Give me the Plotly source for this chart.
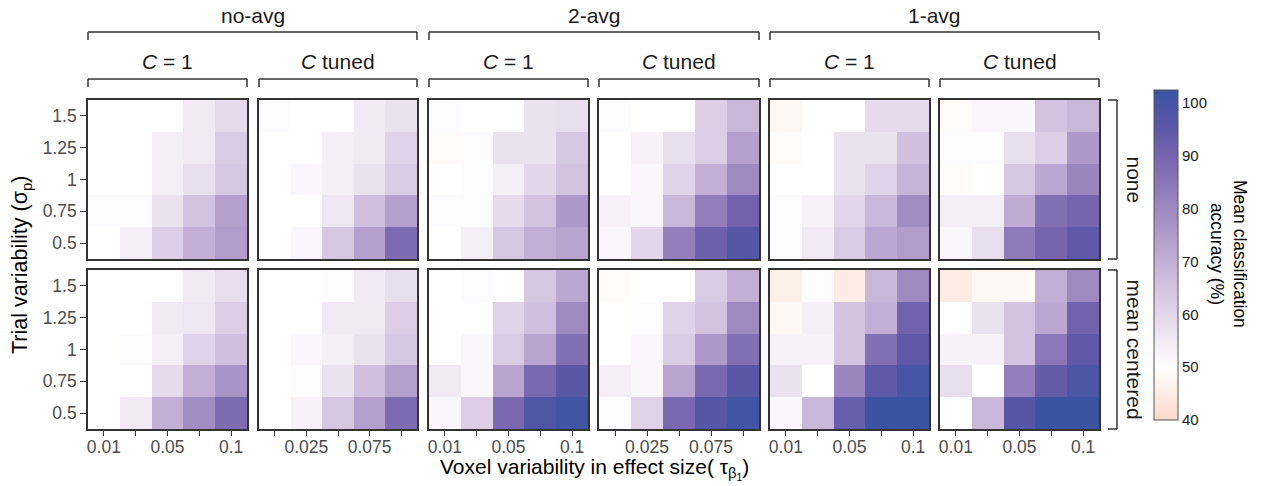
import plotly.graph_objects as go

# ---------------- data ----------------
x_cats = ["0.01", "0.025", "0.05", "0.075", "0.1"]
y_cats = ["0.5", "0.75", "1", "1.25", "1.5"]          # bottom -> top
x_ticks_odd = ["0.01", "", "0.05", "", "0.1"]
x_ticks_even = ["", "0.025", "", "0.075", ""]
col_groups = ["no-avg", "2-avg", "1-avg"]
col_sub = ["<i>C</i> = 1", "<i>C</i> tuned"]
row_labels = ["none", "mean centered"]
cb_ticks = [40, 50, 60, 70, 80, 90, 100]

# rows: sigma 0.5, 0.75, 1, 1.25, 1.5 ; cols: tau 0.01 .. 0.1  (accuracy %)
noavg_c1_none = [[50, 54, 62, 70, 75], [51, 51, 57, 65, 74], [50, 50, 54, 58, 64],
                 [50, 50, 54, 55, 63], [50, 50, 50, 55, 59]]
noavg_ct_none = [[50, 52, 64, 74, 88], [50, 50, 56, 66, 74], [50, 52, 54, 57, 63],
                 [50, 50, 54, 55, 61], [51, 50, 50, 55, 57]]
avg2_c1_none = [[50, 54, 64, 70, 73], [51, 51, 59, 65, 76], [50, 51, 54, 60, 65],
                [49, 51, 57, 57, 64], [51, 50, 50, 57, 58]]
avg2_ct_none = [[52, 60, 83, 92, 97], [53, 52, 68, 83, 91], [50, 52, 61, 70, 80],
                [50, 53, 58, 62, 74], [51, 50, 50, 62, 68]]
avg1_c1_none = [[51, 55, 63, 72, 75], [51, 53, 60, 68, 79], [50, 50, 57, 61, 69],
                [49, 50, 57, 57, 66], [48, 50, 50, 59, 59]]
avg1_ct_none = [[52, 58, 84, 90, 95], [54, 54, 71, 87, 90], [49, 50, 64, 72, 81],
                [51, 51, 58, 62, 76], [49, 52, 52, 65, 68]]
noavg_c1_mc = [[50, 55, 70, 79, 88], [50, 50, 59, 70, 77], [50, 51, 54, 61, 66],
               [50, 50, 55, 56, 62], [50, 50, 50, 55, 58]]
noavg_ct_mc = [[50, 53, 64, 74, 88], [50, 51, 57, 66, 74], [50, 52, 54, 57, 64],
               [50, 50, 55, 55, 62], [50, 50, 51, 55, 58]]
avg2_c1_mc = [[52, 62, 89, 98, 101], [55, 52, 73, 89, 96], [50, 52, 63, 73, 87],
              [50, 50, 61, 66, 80], [50, 51, 50, 64, 72]]
avg2_ct_mc = [[51, 61, 89, 97, 101], [54, 52, 73, 89, 96], [50, 52, 63, 76, 87],
              [50, 51, 61, 65, 80], [49.5, 50, 50, 63, 70]]
avg1_c1_mc = [[52, 68, 93, 102, 102], [57, 50, 81, 95, 100], [53, 53, 65, 87, 95],
              [48, 54, 65, 70, 91], [46, 51, 45, 68, 80]]
avg1_ct_mc = [[50, 68, 97, 102, 102], [58, 50, 83, 94, 99], [53, 53, 65, 85, 95],
              [50, 57, 65, 72, 91], [45, 48, 48, 70, 80]]

panels = [
    [noavg_c1_none, noavg_ct_none, avg2_c1_none, avg2_ct_none, avg1_c1_none, avg1_ct_none],
    [noavg_c1_mc, noavg_ct_mc, avg2_c1_mc, avg2_ct_mc, avg1_c1_mc, avg1_ct_mc],
]
bottom_ticks = [x_ticks_odd, x_ticks_even, x_ticks_odd, x_ticks_even, x_ticks_odd, x_ticks_odd]

# ---------------- layout geometry (pixels) ----------------
W, H = 1265, 486
PX = [(88, 247), (259, 417), (429, 588), (599, 759), (770, 929), (940, 1099)]
PY = [(100, 259), (270, 429)]
CMIN, CMAX = 40, 102.5


def px(x):
    return x / W


def py(y):
    return 1 - y / H


stops = [(40, "#FBD9C9"), (45, "#FDECE4"), (50, "#FFFFFF"), (55, "#F1EAF4"),
         (60, "#E3D6EA"), (65, "#D3C3E0"), (70, "#C3AFD6"), (75, "#B19CCB"),
         (80, "#9E89C1"), (85, "#8B76B7"), (90, "#7665AE"), (95, "#5F58A8"),
         (100, "#4655A4"), (102.5, "#3854A2")]
colorscale = [[(v - CMIN) / (CMAX - CMIN), c] for v, c in stops]

FONT = "Liberation Sans, Arial, sans-serif"
DARK = "#333333"

fig = go.Figure()
layout = dict(
    width=W, height=H, margin=dict(l=0, r=0, t=0, b=0),
    paper_bgcolor="white", plot_bgcolor="white",
    font=dict(family=FONT, color="#1a1a1a"),
    showlegend=False,
    coloraxis=dict(
        colorscale=colorscale, cmin=CMIN, cmax=CMAX,
        colorbar=dict(
            x=px(1154), xanchor="left", y=py(90), yanchor="top",
            len=330, lenmode="pixels", thickness=24, thicknessmode="pixels",
            xpad=0, ypad=0, outlinewidth=1, outlinecolor="#555555",
            tickvals=cb_ticks, ticks="", ticklabelposition="outside",
            tickfont=dict(size=15, color="#1a1a1a", family=FONT),
        ),
    ),
)

k = 0
for r in range(2):
    for c in range(6):
        k += 1
        xa = "x" if k == 1 else f"x{k}"
        ya = "y" if k == 1 else f"y{k}"
        fig.add_trace(go.Heatmap(
            z=panels[r][c], x=x_cats, y=y_cats, coloraxis="coloraxis",
            xaxis=xa, yaxis=ya, hoverinfo="x+y+z",
        ))
        xkey = "xaxis" if k == 1 else f"xaxis{k}"
        ykey = "yaxis" if k == 1 else f"yaxis{k}"
        bottom = r == 1
        left = c == 0
        xa_dict = dict(
            domain=[px(PX[c][0]), px(PX[c][1])], anchor=ya,
            type="category", range=[-0.5, 4.5],
            showline=True, mirror=True, linecolor=DARK, linewidth=1.6,
            showgrid=False, zeroline=False,
            ticks="outside" if bottom else "", ticklen=5, tickwidth=1.2, tickcolor=DARK,
            showticklabels=bottom,
            tickfont=dict(size=17.5, color="#4d4d4d", family=FONT),
            fixedrange=True,
        )
        if bottom:
            xa_dict.update(tickvals=x_cats, ticktext=bottom_ticks[c], ticklabelstandoff=-4)
        layout[xkey] = xa_dict
        ya_dict = dict(
            domain=[py(PY[r][1]), py(PY[r][0])], anchor=xa,
            type="category", range=[-0.5, 4.5],
            showline=True, mirror=True, linecolor=DARK, linewidth=1.6,
            showgrid=False, zeroline=False,
            ticks="outside" if left else "", ticklen=6, tickwidth=1.2, tickcolor=DARK,
            showticklabels=left,
            tickfont=dict(size=17.5, color="#4d4d4d", family=FONT),
            fixedrange=True,
        )
        if left:
            ya_dict.update(tickvals=y_cats, ticktext=y_cats)
        layout[ykey] = ya_dict

shapes = []
ann = []
LINE = dict(color=DARK, width=1.5)


def seg(x0, y0, x1, y1):
    shapes.append(dict(type="line", xref="paper", yref="paper",
                       x0=px(x0), y0=py(y0), x1=px(x1), y1=py(y1), line=LINE))


# second-level brackets (C = 1 / C tuned)
for c in range(6):
    x0, x1 = PX[c]
    seg(x0, 79, x1, 79)
    seg(x0, 79, x0, 87)
    seg(x1, 79, x1, 87)
    ann.append(dict(x=px((x0 + x1) / 2), y=py(62), text=col_sub[c % 2],
                    showarrow=False, xref="paper", yref="paper",
                    xanchor="center", yanchor="middle",
                    font=dict(size=21, color="#1a1a1a", family=FONT)))
# first-level brackets
for g in range(3):
    x0 = PX[2 * g][0]
    x1 = PX[2 * g + 1][1]
    seg(x0, 32, x1, 32)
    seg(x0, 32, x0, 40)
    seg(x1, 32, x1, 40)
    ann.append(dict(x=px((x0 + x1) / 2), y=py(16), text=col_groups[g],
                    showarrow=False, xref="paper", yref="paper",
                    xanchor="center", yanchor="middle",
                    font=dict(size=21, color="#1a1a1a", family=FONT)))
# right row brackets
for r in range(2):
    y0, y1 = PY[r]
    seg(1117, y0, 1117, y1)
    seg(1108, y0, 1117, y0)
    seg(1108, y1, 1117, y1)
    ann.append(dict(x=px(1134), y=py((y0 + y1) / 2), text=row_labels[r],
                    textangle=90, showarrow=False, xref="paper", yref="paper",
                    xanchor="center", yanchor="middle",
                    font=dict(size=21, color="#1a1a1a", family=FONT)))

# axis titles
ann.append(dict(x=px(594), y=0, yanchor="bottom", yshift=1,
                text="Voxel variability in effect size( τ<sub>β<sub>1</sub></sub>)",
                showarrow=False, xref="paper", yref="paper",
                xanchor="center",
                font=dict(size=21, color="#000000", family=FONT)))
ann.append(dict(x=px(21), y=py(265), text="Trial variability (σ<sub>p</sub>)",
                textangle=-90, showarrow=False, xref="paper", yref="paper",
                xanchor="center", yanchor="middle",
                font=dict(size=21.5, color="#000000", family=FONT)))
# colorbar title
ann.append(dict(x=px(1228), y=py(254), text="Mean classification<br>accuracy (%)",
                textangle=90, showarrow=False, xref="paper", yref="paper",
                xanchor="center", yanchor="middle",
                font=dict(size=17.5, color="#000000", family=FONT)))

layout["shapes"] = shapes
layout["annotations"] = ann
fig.update_layout(**layout)
fig.write_html("out.html")
